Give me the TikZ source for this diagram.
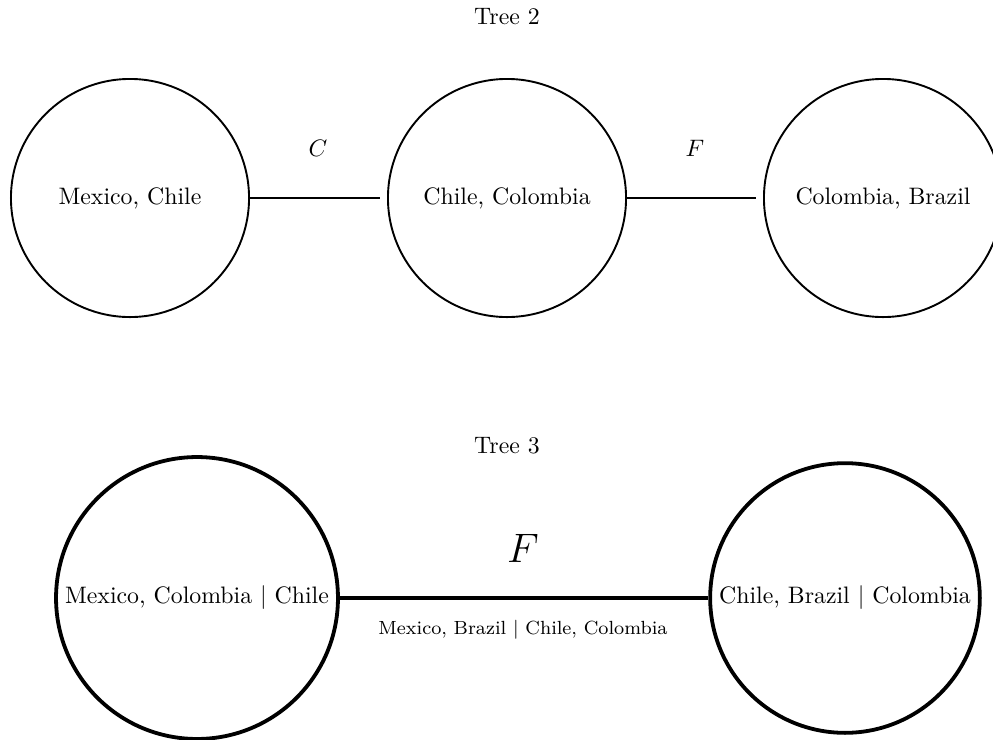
\documentclass[tikz,border=0pt]{standalone}
\begin{document}
\begin{tikzpicture}[x=0.42pt,y=-0.42pt,
  topnode/.style={circle,draw,thick,minimum size=100pt,inner sep=3.33pt},
  botnode/.style={circle,draw,line width=1.6pt,inner sep=3.33pt},
  topedge/.style={thick,shorten >=2.8pt},
  botedge/.style={line width=1.6pt},
  lbl/.style={inner sep=0pt}]
\useasboundingbox (0,0) rectangle (993,739);
\node[lbl] (t2) at (507,17) {Tree 2};
\node[topnode] (a) at (130,198) {Mexico, Chile};
\node[topnode] (b) at (507,198) {Chile, Colombia};
\node[topnode] (c) at (883,198) {Colombia, Brazil};
\draw[topedge] (a) -- (b);
\draw[topedge] (b) -- (c);
\node[lbl] (lc) at (318,148) {$C$};
\node[lbl] (lf) at (695,148) {$F$};
\node[lbl] (t3) at (507,446) {Tree 3};
\node[botnode] (d) at (197,598) {Mexico, Colombia $|$ Chile};
\node[botnode] (e) at (845,598) {Chile, Brazil $|$ Colombia};
\draw[botedge] (d) -- (e);
\node[lbl] (bf) at (523,548) {\LARGE $F$};
\node[lbl] (bl) at (523,630) {\footnotesize Mexico, Brazil $|$ Chile, Colombia};
\end{tikzpicture}
\end{document}
